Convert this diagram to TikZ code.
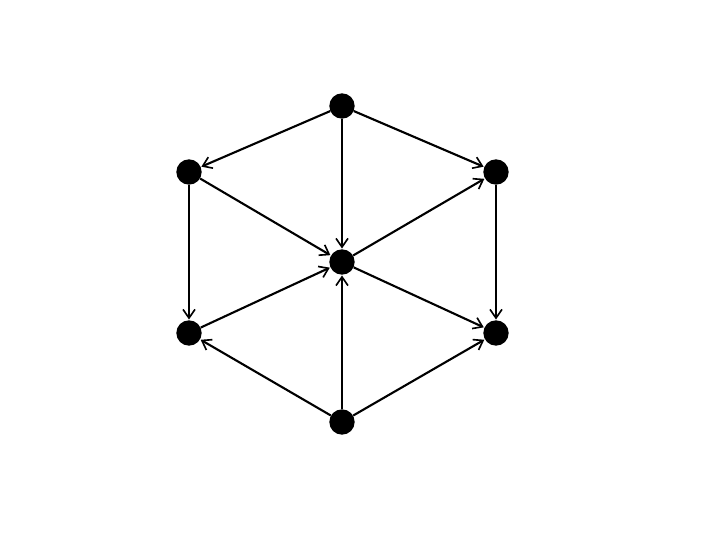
\documentclass[tikz,border=0pt]{standalone}
\usetikzlibrary{arrows.meta}

\begin{document}
\begin{tikzpicture}[x=0.03cm,y=-0.03cm,
    dot/.style={circle,fill=black,inner sep=0pt,minimum size=0.76cm},
    arj/.style={line width=1.8pt,-{Straight Barb[length=2.6mm,width=3.6mm,line width=1.4pt]},shorten >=0.5pt}]
\useasboundingbox (0,0) rectangle (720,540);
\node[dot] (top) at (342,106) {};
\node[dot] (ul) at (189,172) {};
\node[dot] (ur) at (496,172) {};
\node[dot] (mid) at (342,262) {};
\node[dot] (ll) at (189,333) {};
\node[dot] (lr) at (496,333) {};
\node[dot] (bot) at (342,422) {};

\foreach \a/\b in {top/ul,top/ur,top/mid,ul/mid,ul/ll,ur/lr,mid/ur,mid/lr,ll/mid,bot/ll,bot/lr,bot/mid}
    \draw[arj] (\a) -- (\b);
\end{tikzpicture}
\end{document}
